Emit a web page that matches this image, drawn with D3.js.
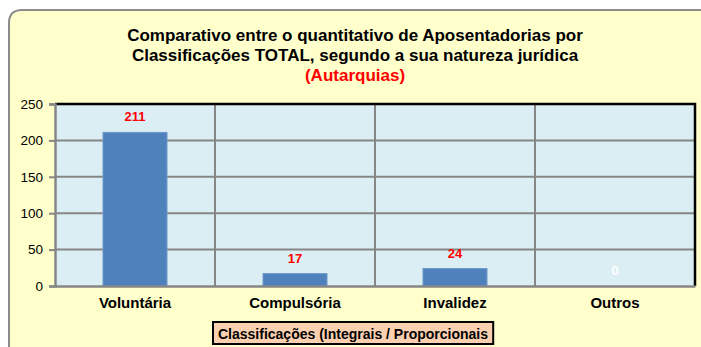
<!DOCTYPE html>
<html>
<head>
<meta charset="utf-8">
<script src="https://cdn.jsdelivr.net/npm/d3@7"></script>
<style>
  html, body { margin: 0; padding: 0; background: #ffffff; }
  svg { display: block; font-family: "Liberation Sans", Arial, sans-serif; }
</style>
</head>
<body>
<svg id="chart" width="701" height="347"></svg>
<script>
// Aposentadorias por classificação (Autarquias)
const categories = ["Voluntária", "Compulsória", "Invalidez", "Outros"];
const values = [211, 17, 24, 0];
const yTicks = [0, 50, 100, 150, 200, 250];
const titleLines = [
  "Comparativo entre o quantitativo de Aposentadorias por",
  "Classificações TOTAL, segundo a sua natureza jurídica"
];
const subtitle = "(Autarquias)";
const axisTitle = "Classificações (Integrais / Proporcionais";

const svg = d3.select("#chart");

// Outer chart frame with rounded top-left corner
const fx = 9, fy = 10, r = 13;
svg.append("path")
  .attr("d", `M${fx},360 L${fx},${fy + r} Q${fx},${fy} ${fx + r},${fy} L710,${fy} L710,360 Z`)
  .attr("fill", "#ffffcc")
  .attr("stroke", "#8c8c8c")
  .attr("stroke-width", 2);

// Title
const title = svg.append("text")
  .attr("text-anchor", "middle")
  .attr("font-weight", "bold")
  .attr("font-size", 17);
titleLines.forEach((t, i) => {
  title.append("tspan").attr("x", 355).attr("y", 41 + i * 20).text(t);
});
svg.append("text")
  .attr("x", 355).attr("y", 81)
  .attr("text-anchor", "middle")
  .attr("font-weight", "bold")
  .attr("font-size", 17)
  .attr("fill", "#ff0000")
  .text(subtitle);

// Plot area
const plotL = 55, plotR = 695, plotT = 104, plotB = 286;
const x = d3.scaleBand().domain(categories).range([plotL, plotR]).paddingInner(0).paddingOuter(0);
const y = d3.scaleLinear().domain([0, 250]).range([plotB, plotT]);

svg.append("rect")
  .attr("x", plotL).attr("y", plotT)
  .attr("width", plotR - plotL).attr("height", plotB - plotT)
  .attr("fill", "#daeef3");

// Horizontal gridlines
svg.append("g")
  .selectAll("line")
  .data(yTicks.filter(d => d > 0 && d < 250))
  .join("line")
  .attr("x1", plotL).attr("x2", plotR)
  .attr("y1", d => y(d)).attr("y2", d => y(d))
  .attr("stroke", "#868686").attr("stroke-width", 2);

// Vertical category gridlines
svg.append("g")
  .selectAll("line")
  .data(categories.slice(1))
  .join("line")
  .attr("x1", d => x(d)).attr("x2", d => x(d))
  .attr("y1", plotT).attr("y2", plotB)
  .attr("stroke", "#868686").attr("stroke-width", 2);

// Bars
const barW = x.bandwidth() * 0.4;
svg.append("g")
  .selectAll("rect")
  .data(values)
  .join("rect")
  .attr("x", (d, i) => x(categories[i]) + (x.bandwidth() - barW) / 2)
  .attr("y", d => y(d))
  .attr("width", barW)
  .attr("height", d => plotB - y(d))
  .attr("fill", "#4f81bd")
  .attr("stroke", "#6f97c9")
  .attr("stroke-width", 1);

// Plot border: black top and right
svg.append("path")
  .attr("d", `M${plotL},${plotT} L${plotR},${plotT} L${plotR},${plotB}`)
  .attr("fill", "none")
  .attr("stroke", "#000")
  .attr("stroke-width", 2.5);

// Y axis
const yAxis = svg.append("g")
  .attr("transform", `translate(${plotL},0)`)
  .call(d3.axisLeft(y).tickValues(yTicks).tickSize(6).tickPadding(6));
yAxis.select(".domain").attr("stroke", "#868686").attr("stroke-width", 2.5);
yAxis.selectAll(".tick line").attr("stroke", "#868686").attr("stroke-width", 2);
yAxis.selectAll(".tick text")
  .attr("font-size", 13.5)
  .attr("font-family", "Liberation Sans, Arial, sans-serif")
  .attr("fill", "#000");

// X axis
const xAxis = svg.append("g")
  .attr("transform", `translate(0,${plotB})`)
  .call(d3.axisBottom(x).tickSize(0).tickPadding(11));
xAxis.select(".domain").attr("stroke", "#868686").attr("stroke-width", 2.5);
xAxis.selectAll(".tick text")
  .attr("font-size", 15)
  .attr("font-weight", "bold")
  .attr("font-family", "Liberation Sans, Arial, sans-serif")
  .attr("fill", "#000");

// Value labels
svg.append("g")
  .selectAll("text")
  .data(values)
  .join("text")
  .attr("x", (d, i) => x(categories[i]) + x.bandwidth() / 2)
  .attr("y", d => y(d) - 11)
  .attr("text-anchor", "middle")
  .attr("font-size", 13)
  .attr("font-weight", "bold")
  .attr("fill", d => d === 0 ? "#ffffff" : "#ff0000")
  .text(d => d);

// Axis title box
const boxG = svg.append("g");
const boxRect = boxG.append("rect");
const boxText = boxG.append("text")
  .attr("x", 353).attr("y", 338.5)
  .attr("text-anchor", "middle")
  .attr("font-size", 14)
  .attr("font-weight", "bold")
  .text(axisTitle);
const bb = boxText.node().getBBox();
boxRect
  .attr("x", bb.x - 5).attr("y", 322)
  .attr("width", bb.width + 10).attr("height", 22)
  .attr("fill", "#fbd0b0")
  .attr("stroke", "#000")
  .attr("stroke-width", 2);
</script>
</body>
</html>
